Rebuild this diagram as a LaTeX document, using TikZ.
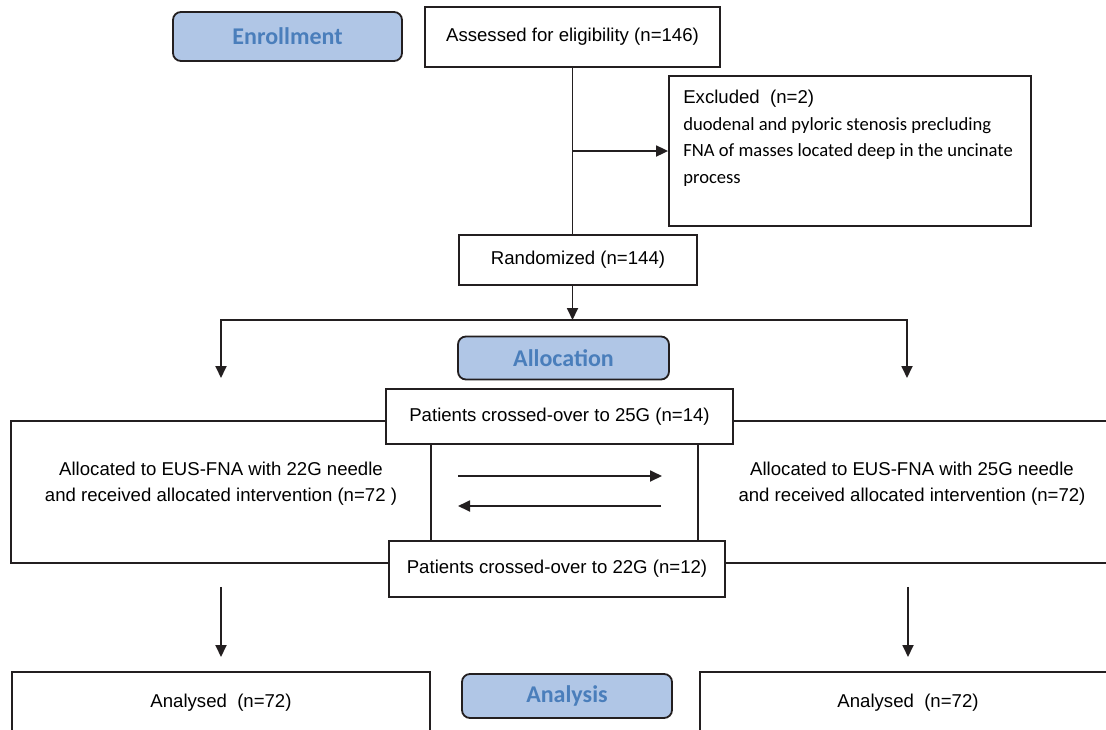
\documentclass[tikz,border=0pt]{standalone}
\usepackage{fontspec}
\setmainfont{Liberation Sans}
\newfontfamily\calibri{Carlito}
\usetikzlibrary{arrows.meta}
\definecolor{headfill}{RGB}{176,198,230}
\definecolor{headtext}{RGB}{74,126,187}
\definecolor{ink}{RGB}{35,31,32}

\begin{document}
\begin{tikzpicture}[x=1pt,y=-1pt,
	box/.style={draw=ink, line width=1.8pt, fill=white, inner sep=0pt, font=\fontsize{18.6}{26}\selectfont},
	headbox/.style={draw=ink, line width=1.8pt, rounded corners=8pt, fill=headfill, text=headtext, inner sep=0pt, font=\calibri\bfseries\fontsize{24}{28}\selectfont},
	txt/.style={inner sep=0pt, align=center, font=\fontsize{18.6}{26}\selectfont},
	line/.style={draw=ink, line width=1.8pt},
	arr/.style={draw=ink, line width=1.8pt, -{Triangle[length=12pt,width=11pt]}}]
	\useasboundingbox (0,0) rectangle (1106,729);
	\clip (0,0) rectangle (1106,729);

	%headings
	\node[headbox, minimum width=229pt, minimum height=49pt] (enroll) at (287.5,36.5) {Enrollment};
	\node[headbox, minimum width=211pt, minimum height=43pt] (alloc) at (563.5,358) {Allocation};
	\node[headbox, minimum width=210pt, minimum height=44pt] (analysis) at (567,696) {Analysis};

	%enrollment
	\node[box, minimum width=295pt, minimum height=60pt] (assess) at (572.5,37) {Assessed for eligibility (n=146)};
	\node[box, minimum width=362pt, minimum height=150pt] (exclude) at (850,151) {};
	\node[txt, anchor=north west, align=left, font=\fontsize{18.6}{26.5}\selectfont] (excludetxt) at ([xshift=15pt,yshift=-15pt]exclude.north west)
		{Excluded\ \ (n=2)\\ {\calibri duodenal and pyloric stenosis precluding}\\ {\calibri FNA of masses located deep in the uncinate}\\ {\calibri process}};
	\node[box, minimum width=238pt, minimum height=50pt] (random) at (578,260) {Randomized (n=144)};

	%allocation
	\node[box, minimum width=420pt, minimum height=142pt] (arm22) at (221,492) {};
	\node[box, minimum width=428pt, minimum height=142pt] (arm25) at (912,492) {};
	\node[txt] (arm22txt) at ([yshift=8pt]arm22.center) {Allocated to EUS-FNA with 22G needle\\ and received allocated intervention (n=72 )};
	\node[txt] (arm25txt) at ([yshift=8pt]arm25.center) {Allocated to EUS-FNA with 25G needle\\ and received allocated intervention (n=72)};
	\node[box, minimum width=347pt, minimum height=55pt] (cross25) at (559.5,416.5) {Patients crossed-over to 25G (n=14)};
	\node[box, minimum width=336pt, minimum height=56pt] (cross22) at (557,569) {Patients crossed-over to 22G (n=12)};

	%analysis
	\node[box, anchor=north, minimum width=418pt, inner ysep=16pt, text height=20pt, text depth=60pt] (analysedL) at (221,671) {Analysed\ \ (n=72)};
	\node[box, anchor=north, minimum width=416pt, inner ysep=16pt, text height=20pt, text depth=60pt] (analysedR) at (908,671) {Analysed\ \ (n=72)};

	%lines
	\coordinate (split) at (572.5,320);
	\coordinate (tipL) at (221,378);
	\coordinate (tipR) at (907,378);
	\coordinate (fwdA) at (458,476);
	\coordinate (fwdB) at (662,476);
	\coordinate (backA) at (661,506);
	\coordinate (backB) at (458,506);
	\draw[line] (assess.south) -- (assess.south |- random.north);
	\draw[arr] (assess.south |- exclude.west) -- (exclude.west);
	\draw[arr] (assess.south |- random.south) -- (split);
	\draw[arr] (split) -| (tipL);
	\draw[arr] (split) -| (tipR);
	\draw[arr] (fwdA) -- (fwdB);
	\draw[arr] (backA) -- (backB);
	\draw[arr] ([yshift=-23pt]arm22.south) -- ([yshift=14pt]analysedL.north);
	\draw[arr] ([xshift=-4pt,yshift=-23pt]arm25.south) -- ([yshift=14pt]analysedR.north);
\end{tikzpicture}
\end{document}
